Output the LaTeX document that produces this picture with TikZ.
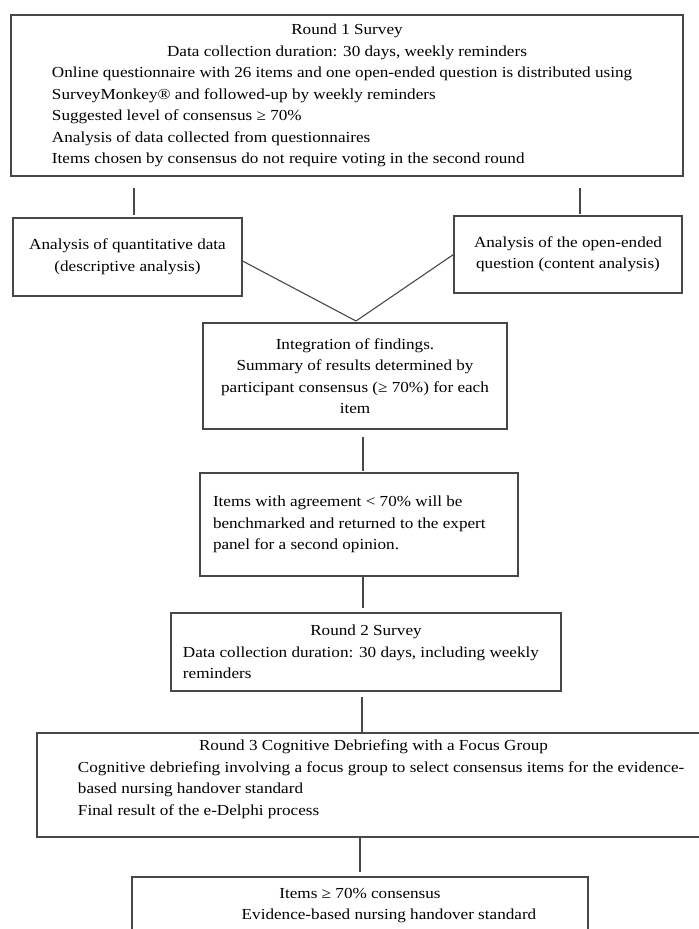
\documentclass[tikz,border=0pt]{standalone}
\usepackage{fontspec}
\setmainfont[FakeStretch=1.12]{Liberation Serif}
\newcommand{\fsz}{\fontsize{15.3bp}{21.5bp}\selectfont}
\tikzset{
  box/.style={draw=black!72, line width=1.1bp, inner sep=0pt, align=center, font=\fsz},
  link/.style={draw=black!72, line width=1.1bp},
}
\begin{document}
\begin{tikzpicture}[x=1bp,y=-1bp]
\useasboundingbox (0,0) rectangle (699,929);
% Round 1
\node[box, minimum width=672bp, minimum height=161bp] (r1) at (347,95.5)
 {\parbox{590bp}{\centering Round 1 Survey\\ Data collection duration: 30 days, weekly reminders\par
 \raggedright
 \mbox{Online questionnaire with 26 items and one open-ended question is distributed using}\\
 \mbox{SurveyMonkey® and followed-up by weekly reminders}\\
 \mbox{Suggested level of consensus ≥ 70\%}\\
 \mbox{Analysis of data collected from questionnaires}\\
 \mbox{Items chosen by consensus do not require voting in the second round}}};
% analysis boxes
\node[box, minimum width=229bp, minimum height=78bp] (qa) at (127.5,257)
 {Analysis of quantitative data\\(descriptive analysis)};
\node[box, minimum width=228bp, minimum height=77bp] (oa) at (568,254.5)
 {Analysis of the open-ended\\question (content analysis)};
% integration
\node[box, minimum width=304bp, minimum height=106bp] (ig) at (355,376)
 {Integration of findings.\\Summary of results determined by\\participant consensus (≥ 70\%) for each\\item};
% items < 70
\node[box, minimum width=318bp, minimum height=103bp] (lt) at (359,524.5)
 {\parbox{292bp}{\raggedright Items with agreement < 70\% will be\\ benchmarked and returned to the expert\\ panel for a second opinion.}};
% round 2
\node[box, minimum width=390bp, minimum height=78bp] (r2) at (366,652)
 {\parbox{366bp}{\centering Round 2 Survey\par\raggedright
 Data collection duration: 30 days, including weekly\\ reminders}};
% round 3
\node[box, minimum width=673bp, minimum height=104bp] (r3) at (373.5,785)
 {\parbox{591bp}{\centering Round 3 Cognitive Debriefing with a Focus Group\par\raggedright
 \mbox{Cognitive debriefing involving a focus group to select consensus items for the evidence-}\\
 based nursing handover standard\\
 Final result of the e-Delphi process\par\vspace{12bp}}};
% final
\node[box, minimum width=456bp, minimum height=57bp] (fin) at (360,905.5)
 {\parbox{456bp}{\centering Items ≥ 70\% consensus\\ \hspace*{58bp}Evidence-based nursing handover standard}};
% connectors
\coordinate (a1) at (134,188); \coordinate (a2) at (134,215);
\coordinate (b1) at (580,188); \coordinate (b2) at (580,214);
\coordinate (apex) at (356,321);
\coordinate (c1) at (363,437); \coordinate (c2) at (363,471);
\coordinate (e1) at (363,576); \coordinate (e2) at (363,608);
\coordinate (f1) at (362,697); \coordinate (f2) at (362,733);
\coordinate (g1) at (360,837); \coordinate (g2) at (360,872);
\draw[link] (a1) -- (a2);
\draw[link] (b1) -- (b2);
\draw[link] ([yshift=-4bp]qa.east) -- (apex);
\draw[link] (oa.west) -- (apex);
\draw[link] (c1) -- (c2);
\draw[link] (e1) -- (e2);
\draw[link] (f1) -- (f2);
\draw[link] (g1) -- (g2);
\end{tikzpicture}
\end{document}
